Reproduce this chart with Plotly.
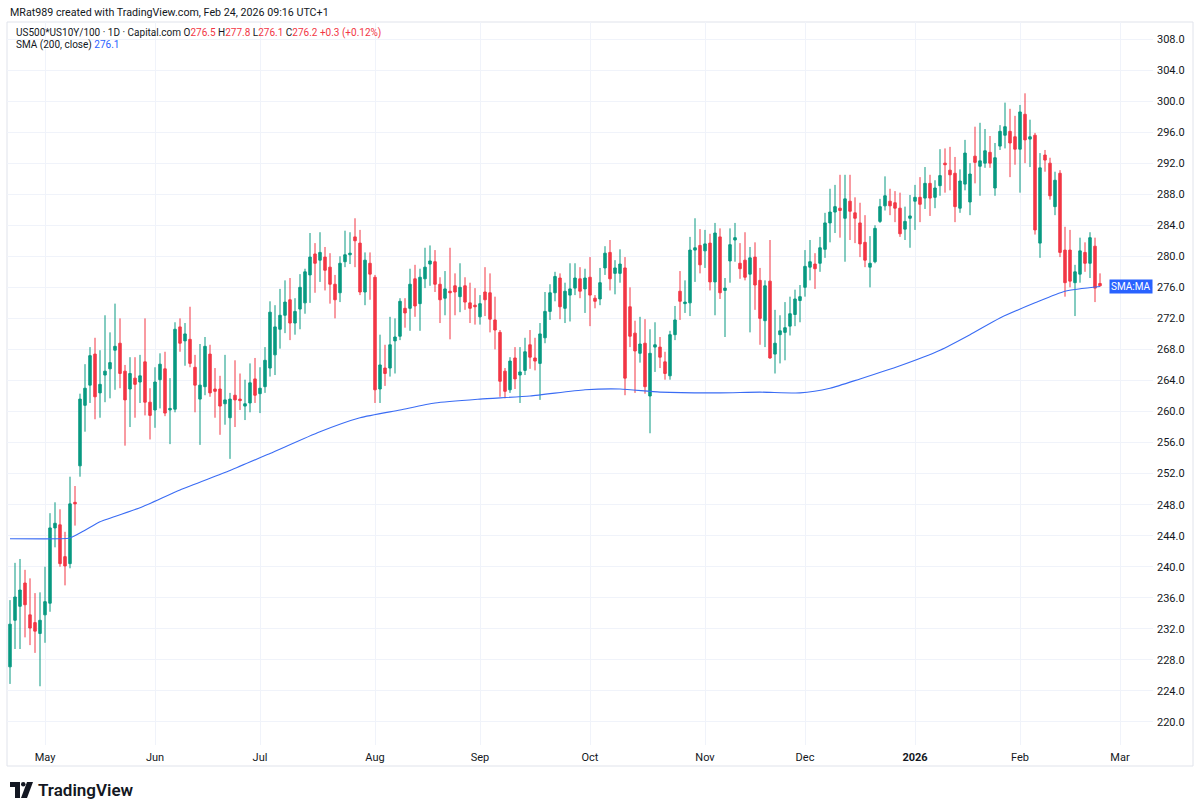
import pandas as pd
import plotly.graph_objects as go

# ---------------- data ----------------
open_ = [227.1, 233.1, 234.9, 237.9, 233.8, 232.8, 231.4, 233.8, 235.3, 245.0,
         245.4, 241.3, 240.4, 248.3, 253.0, 260.8, 263.4, 267.4, 262.4, 264.7,
         265.5, 267.9, 268.8, 265.2, 262.9, 264.3, 263.8, 266.4, 261.2, 260.2,
         264.1, 265.5, 260.2, 260.3, 270.9, 269.1, 269.3, 265.7, 261.6, 263.2,
         267.4, 262.9, 262.9, 261.0, 259.2, 262.1, 261.6, 260.7, 261.1, 264.2,
         262.3, 263.2, 265.6, 267.3, 270.6, 272.4, 274.4, 271.4, 273.2, 274.0,
         277.6, 280.3, 279.5, 279.9, 278.6, 276.4, 275.3, 279.3, 280.2, 282.5,
         281.7, 275.4, 279.1, 277.3, 262.9, 265.6, 265.6, 269.1, 269.7, 273.3,
         273.3, 277.1, 273.9, 277.1, 279.0, 279.3, 276.4, 274.6, 275.5, 276.2,
         274.8, 276.2, 274.0, 273.7, 272.2, 275.4, 275.3, 271.8, 270.2, 265.2,
         262.8, 266.9, 264.7, 265.3, 268.6, 266.9, 266.2, 269.5, 272.9, 275.3,
         277.2, 273.3, 275.0, 275.9, 277.1, 275.8, 277.3, 274.6, 274.5, 278.5,
         280.5, 277.8, 277.8, 278.5, 273.5, 270.1, 267.5, 268.8, 262.0, 268.3,
         268.3, 266.4, 264.6, 269.9, 275.5, 273.9, 274.0, 280.8, 281.4, 280.7,
         281.7, 276.7, 282.5, 275.6, 279.4, 282.1, 279.1, 279.5, 277.7, 279.9,
         276.9, 271.7, 276.8, 267.4, 269.9, 270.2, 271.0, 272.5, 274.3, 276.0,
         278.6, 279.0, 279.1, 280.9, 284.3, 285.7, 286.2, 284.9, 287.1, 285.6,
         284.3, 281.8, 278.6, 279.3, 284.5, 286.5, 287.1, 286.9, 286.2, 283.5,
         284.9, 287.1, 287.6, 287.5, 289.4, 287.6, 289.1, 292.0, 291.1, 290.7,
         286.2, 289.3, 287.0, 292.9, 291.6, 292.0, 293.4, 288.8, 294.2, 295.6,
         296.1, 295.4, 293.8, 298.3, 295.1, 295.6, 281.7, 293.05, 292.0, 286.4,
         290.7, 280.8, 280.8, 276.6, 277.7, 280.5, 279.1, 281.3, 276.5]
high_ = [235.7, 240.5, 241.0, 239.6, 238.5, 236.6, 236.7, 240.0, 246.9, 248.3,
         247.4, 244.5, 251.6, 250.4, 262.3, 266.1, 268.3, 269.5, 267.9, 272.4,
         270.2, 273.9, 272.0, 266.0, 267.0, 267.0, 267.3, 272.0, 263.0, 265.7,
         267.5, 267.7, 264.3, 271.5, 272.0, 271.4, 273.5, 267.3, 268.7, 269.6,
         268.6, 265.6, 264.6, 267.3, 262.4, 266.6, 264.9, 264.1, 266.2, 266.9,
         265.7, 268.3, 274.2, 273.7, 275.8, 276.9, 277.2, 274.6, 277.7, 278.4,
         283.0, 281.7, 283.1, 281.2, 280.4, 277.6, 280.0, 283.3, 283.1, 284.9,
         283.4, 280.5, 280.5, 277.6, 269.9, 268.6, 272.2, 272.0, 274.6, 274.6,
         278.4, 278.9, 278.4, 281.1, 281.4, 280.8, 277.3, 278.1, 281.1, 277.8,
         279.1, 277.3, 276.6, 275.9, 275.0, 278.6, 277.8, 274.8, 270.5, 265.6,
         267.0, 268.3, 268.3, 269.5, 270.5, 269.5, 271.4, 275.4, 276.4, 278.0,
         277.8, 276.6, 279.1, 279.1, 278.6, 278.4, 279.9, 275.0, 278.5, 281.3,
         282.1, 279.5, 280.9, 279.9, 276.0, 271.7, 272.2, 271.9, 270.6, 271.5,
         269.6, 267.7, 270.4, 273.6, 278.1, 276.9, 282.5, 284.9, 283.5, 283.4,
         282.9, 284.3, 283.6, 277.2, 283.6, 284.3, 281.7, 283.1, 281.2, 281.8,
         278.5, 276.9, 282.1, 273.1, 272.4, 274.1, 274.8, 275.7, 276.3, 280.8,
         282.1, 280.4, 282.5, 285.6, 288.7, 289.2, 290.5, 290.5, 290.5, 287.6,
         286.9, 285.3, 282.6, 284.0, 287.4, 290.3, 288.7, 288.4, 288.2, 286.4,
         287.9, 289.2, 290.2, 291.5, 290.5, 289.8, 293.8, 293.9, 294.1, 292.8,
         291.2, 295.0, 292.0, 296.7, 297.2, 296.4, 295.5, 294.6, 296.9, 299.8,
         299.0, 298.1, 299.5, 301.0, 297.6, 295.9, 293.3, 293.7, 292.7, 290.9,
         291.1, 283.8, 283.4, 278.9, 282.4, 281.8, 283.1, 282.4, 277.8]
low_ = [224.9, 229.4, 229.4, 230.9, 229.9, 228.9, 224.6, 230.2, 234.2, 242.5,
        240.0, 237.6, 239.8, 245.3, 251.6, 257.4, 261.1, 259.0, 259.2, 261.2,
        261.7, 262.8, 263.0, 255.6, 258.0, 259.2, 261.1, 259.5, 256.4, 257.9,
        260.4, 259.4, 255.8, 259.9, 267.7, 265.9, 265.7, 259.9, 255.7, 262.1,
        261.9, 259.2, 257.0, 258.3, 253.9, 258.0, 260.2, 258.9, 259.9, 261.1,
        259.8, 262.4, 264.5, 264.7, 268.1, 270.1, 269.2, 269.9, 270.6, 272.6,
        274.0, 275.3, 276.7, 275.6, 273.9, 272.0, 274.1, 278.6, 279.0, 278.6,
        275.0, 273.7, 274.4, 261.1, 261.1, 263.3, 264.5, 264.9, 269.2, 270.8,
        270.4, 272.2, 270.4, 275.9, 276.2, 275.4, 271.4, 272.4, 269.3, 272.4,
        272.8, 273.1, 271.4, 271.2, 271.2, 272.3, 270.2, 268.0, 261.9, 261.7,
        262.4, 262.9, 261.1, 264.7, 265.5, 265.3, 261.5, 268.8, 271.8, 274.2,
        271.9, 271.4, 271.6, 275.0, 274.6, 272.7, 271.0, 273.3, 273.7, 277.6,
        275.6, 275.1, 276.6, 262.1, 268.3, 262.4, 266.3, 262.3, 257.2, 265.1,
        265.6, 264.1, 264.1, 269.2, 271.8, 272.7, 272.3, 276.7, 277.8, 278.5,
        275.6, 272.4, 274.5, 269.6, 276.6, 279.3, 277.1, 276.9, 270.2, 273.1,
        268.6, 268.3, 266.8, 264.9, 266.2, 266.6, 269.8, 271.0, 271.5, 274.8,
        276.9, 275.8, 278.0, 279.8, 281.8, 283.0, 282.4, 279.3, 282.1, 281.7,
        279.9, 278.6, 276.0, 279.1, 284.3, 285.9, 285.3, 284.4, 282.5, 282.1,
        281.1, 283.4, 284.4, 286.1, 285.2, 286.2, 287.8, 288.2, 288.5, 284.4,
        285.6, 288.5, 285.3, 289.4, 287.8, 291.4, 291.4, 287.8, 293.7, 293.9,
        290.2, 291.8, 288.2, 292.0, 291.5, 282.8, 279.8, 290.9, 287.3, 285.3,
        279.9, 274.8, 276.0, 272.3, 276.6, 278.0, 277.2, 274.1, 276.1]
close_ = [232.6, 236.1, 237.0, 235.1, 232.1, 231.7, 233.1, 235.5, 245.0, 245.6,
          240.4, 240.1, 248.1, 248.1, 261.6, 263.0, 267.2, 261.9, 263.5, 265.2,
          266.3, 268.4, 264.9, 261.5, 264.9, 263.5, 264.6, 261.2, 259.5, 263.8,
          266.1, 259.8, 260.4, 270.6, 268.8, 270.0, 266.2, 263.4, 263.4, 268.4,
          262.4, 262.6, 260.7, 261.5, 261.6, 261.5, 261.4, 261.0, 263.7, 262.1,
          263.0, 266.6, 272.8, 270.9, 272.4, 274.1, 271.4, 272.9, 276.0, 278.0,
          279.9, 279.1, 280.5, 278.2, 276.4, 274.4, 279.1, 280.2, 280.4, 282.0,
          275.4, 279.5, 277.7, 262.8, 266.0, 264.9, 268.6, 269.6, 274.2, 272.7,
          276.4, 273.6, 277.3, 278.6, 279.4, 276.4, 274.4, 275.8, 275.3, 275.4,
          276.0, 274.1, 273.3, 273.5, 273.9, 274.4, 271.9, 270.5, 263.9, 262.6,
          266.5, 264.2, 265.1, 267.7, 267.0, 266.5, 270.0, 272.9, 275.3, 277.4,
          273.5, 275.5, 275.8, 277.2, 275.5, 277.2, 275.0, 274.2, 276.6, 280.4,
          277.1, 278.5, 279.0, 264.3, 269.7, 267.8, 268.7, 263.2, 267.5, 268.6,
          267.0, 264.9, 269.9, 271.8, 274.2, 274.1, 280.8, 281.1, 278.9, 281.6,
          276.7, 283.0, 275.3, 275.9, 281.5, 282.4, 278.4, 277.3, 279.8, 276.3,
          272.0, 276.2, 266.9, 268.8, 270.4, 270.8, 272.6, 274.5, 274.8, 278.7,
          279.3, 278.4, 281.1, 284.3, 285.7, 286.4, 285.9, 287.4, 285.8, 284.9,
          281.6, 279.5, 279.1, 283.6, 286.4, 287.8, 286.5, 286.2, 282.9, 284.5,
          285.2, 287.6, 286.7, 289.4, 287.5, 288.8, 290.4, 291.8, 290.5, 286.4,
          289.7, 293.3, 290.6, 292.1, 292.3, 293.6, 292.0, 292.7, 296.1, 296.7,
          294.6, 293.8, 298.6, 295.0, 295.4, 283.4, 291.4, 292.4, 287.8, 289.8,
          280.5, 276.6, 276.8, 278.0, 280.7, 279.1, 282.4, 275.9, 276.2]

# SMA(200) readings at sampled bar indices
sma_idx = [0, 10, 12, 15, 18, 26, 34, 44, 52, 62, 70, 78, 85, 94, 104, 115,
           122, 130, 142, 150, 158, 164, 170, 178, 186, 192, 198, 205, 211, 218]
sma_val = [243.6, 243.6, 243.7, 244.7, 245.8, 247.6, 249.9, 252.4, 254.6, 257.4,
           259.2, 260.2, 261.1, 261.6, 262.0, 262.8, 262.9, 262.5, 262.4, 262.5,
           262.4, 263.0, 264.2, 265.9, 267.9, 269.9, 272.05, 274.0, 275.5, 276.1]

month_labels = ["May", "Jun", "Jul", "Aug", "Sep", "Oct", "Nov", "Dec",
                "<b>2026</b>", "Feb", "Mar"]
price_ticks = [220 + 4 * k for k in range(23)]
holidays = ["2025-12-25", "2026-01-01"]

# ---------------- trading calendar ----------------
cal = pd.bdate_range("2025-04-22", "2026-03-06")
cal = cal[~cal.isin(pd.to_datetime(holidays))]
n = len(open_)
dates = cal[:n]
xs = list(range(n))

tickvals = []
seen = set()
for i, d in enumerate(cal):
    key = (d.year, d.month)
    if d >= pd.Timestamp("2025-05-01") and key not in seen:
        seen.add(key)
        tickvals.append(i)
tickvals = tickvals[:len(month_labels)]

UP = "#089981"
DN = "#F23645"
BLUE = "#2962FF"
TXT = "#131722"
GRID = "#f0f3fa"
FONT = "Roboto, 'Noto Sans', sans-serif"

fig = go.Figure()
fig.add_trace(go.Candlestick(
    x=xs, open=open_, high=high_, low=low_, close=close_,
    increasing=dict(line=dict(color=UP, width=1), fillcolor=UP),
    decreasing=dict(line=dict(color=DN, width=1), fillcolor=DN),
    whiskerwidth=0, showlegend=False, hoverinfo="skip",
))
fig.add_trace(go.Scatter(
    x=sma_idx, y=sma_val, mode="lines",
    line=dict(color="#3a6cf4", width=1.1, shape="spline", smoothing=0.6),
    showlegend=False, hoverinfo="skip",
))

# layout geometry (pixels)
L, R, T, B = 7, 47, 22, 67
W, H = 1200, 812
PW, PH = W - L - R, H - T - B
BAR_PX = 5.0
X0_PX = 10.0


def px_x(px):
    return (px - L) / PW


def px_y(py):
    return (H - B - py) / PH


x_lo = (L - X0_PX) / BAR_PX
x_hi = (W - R - X0_PX) / BAR_PX

annotations = [
    dict(text="MRat989 created with TradingView.com, Feb 24, 2026 09:16 UTC+1",
         xref="paper", yref="paper", x=px_x(8), y=px_y(12),
         xanchor="left", yanchor="middle", showarrow=False,
         font=dict(size=10.7, color=TXT, family=FONT)),
    dict(text=("US500*US10Y/100 · 1D · Capital.com\u00a0"
               f"O<span style='color:{DN}'>276.5</span>\u00a0"
               f"H<span style='color:{DN}'>277.8</span>\u00a0"
               f"L<span style='color:{DN}'>276.1</span>\u00a0"
               f"C<span style='color:{DN}'>276.2</span>\u00a0"
               f"<span style='color:{DN}'>+0.3 (+0.12%)</span>"),
         xref="paper", yref="paper", x=px_x(14), y=px_y(33),
         xanchor="left", yanchor="middle", showarrow=False,
         font=dict(size=10, color=TXT, family=FONT)),
    dict(text=f"SMA (200, close)\u00a0<span style='color:{BLUE}'>276.1</span>",
         xref="paper", yref="paper", x=px_x(14), y=px_y(45),
         xanchor="left", yanchor="middle", showarrow=False,
         font=dict(size=10, color=TXT, family=FONT)),
    dict(text="SMA:MA", xref="paper", yref="y", x=px_x(1153), y=sma_val[-1],
         xanchor="right", yanchor="middle", showarrow=False,
         bgcolor=BLUE, borderpad=1,
         font=dict(size=10, color="white", family=FONT)),
    dict(text="TradingView", xref="paper", yref="paper", x=px_x(36), y=px_y(790),
         xanchor="left", yanchor="middle", showarrow=False,
         font=dict(size=17, color=TXT, family=FONT, weight=600)),
]

shapes = [
    # frame
    dict(type="rect", xref="paper", yref="paper",
         x0=0, x1=px_x(1193), y0=px_y(766), y1=1,
         line=dict(color="#e0e3eb", width=1), layer="below"),
    # TradingView logo mark
    dict(type="path", xref="paper", yref="paper",
         path=(f"M {px_x(10)} {px_y(782)} L {px_x(20)} {px_y(782)} L {px_x(20)} {px_y(798)} "
               f"L {px_x(15)} {px_y(798)} L {px_x(15)} {px_y(787)} L {px_x(10)} {px_y(787)} Z"),
         fillcolor=TXT, line=dict(width=0)),
    dict(type="circle", xref="paper", yref="paper",
         x0=px_x(21), x1=px_x(25.5), y0=px_y(786.5), y1=px_y(782),
         fillcolor=TXT, line=dict(width=0)),
    dict(type="path", xref="paper", yref="paper",
         path=(f"M {px_x(27)} {px_y(782)} L {px_x(33)} {px_y(782)} L {px_x(27)} {px_y(798)} "
               f"L {px_x(21)} {px_y(798)} Z"),
         fillcolor=TXT, line=dict(width=0)),
]

fig.update_layout(
    width=W, height=H,
    margin=dict(l=L, r=R, t=T, b=B),
    paper_bgcolor="white", plot_bgcolor="white",
    font=dict(family=FONT, size=11, color=TXT),
    showlegend=False,
    annotations=annotations,
    shapes=shapes,
    xaxis=dict(
        range=[x_lo, x_hi],
        tickmode="array", tickvals=tickvals, ticktext=month_labels,
        showgrid=True, gridcolor=GRID, gridwidth=1,
        zeroline=False, showline=False, ticks="",
        ticklabelstandoff=4,
        rangeslider=dict(visible=False),
        tickfont=dict(size=11, color=TXT, family=FONT),
        fixedrange=True,
    ),
    yaxis=dict(
        side="right",
        range=[217.03, 310.19],
        tickmode="array", tickvals=price_ticks,
        ticktext=[f"{v:.1f}" for v in price_ticks],
        showgrid=True, gridcolor=GRID, gridwidth=1,
        zeroline=False, showline=False, ticks="",
        ticklabelstandoff=3,
        tickfont=dict(size=11, color=TXT, family=FONT),
        fixedrange=True,
    ),
)

fig.write_html("out.html", config={"displayModeBar": False},
               post_script="document.body.style.margin='0';")
